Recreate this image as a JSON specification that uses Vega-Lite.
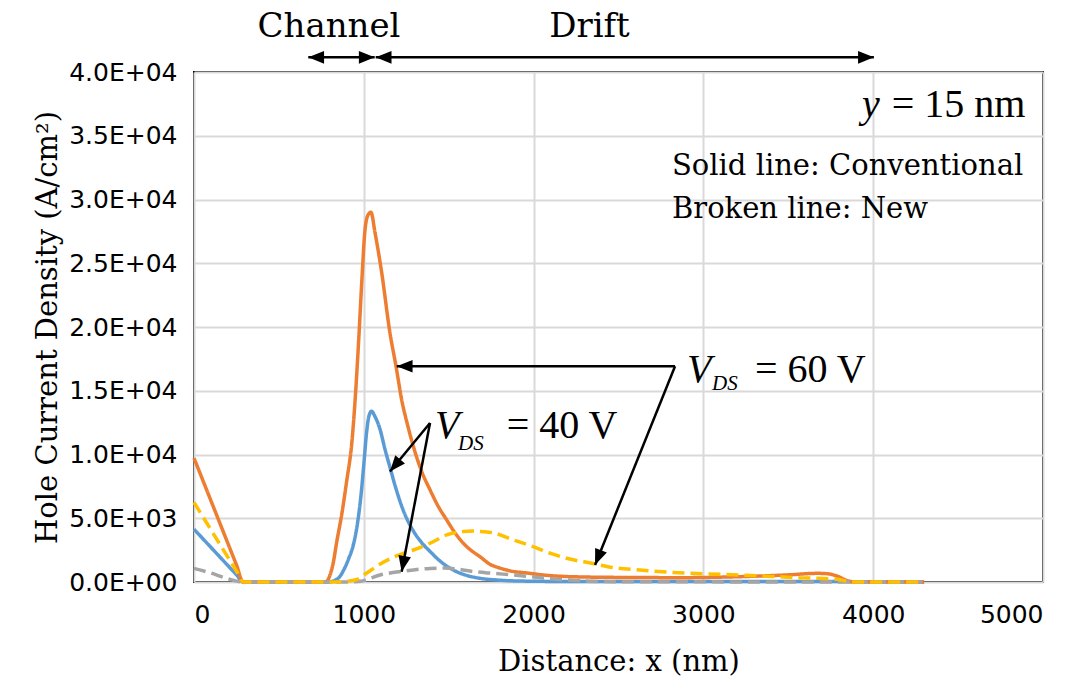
{
  "$schema": "https://vega.github.io/schema/vega-lite/v6.json",
  "width": 849,
  "height": 510,
  "autosize": {"type": "none"},
  "padding": {"left": 194, "top": 72, "right": 35, "bottom": 105},
  "background": "white",
  "config": {
    "view": {"stroke": "black", "strokeWidth": 2},
    "axis": {
      "grid": true,
      "gridColor": "#d9d9d9",
      "gridWidth": 2,
      "ticks": false,
      "domain": false,
      "labelFont": "DejaVu Sans",
      "labelFontSize": 25,
      "labelColor": "black",
      "titleFont": "DejaVu Serif",
      "titleFontSize": 29,
      "titleFontWeight": "normal",
      "titleColor": "black"
    }
  },
  "datasets": {
    "curves": [
      {"s": "Conv 40V", "x": 0, "y": 4140}, {"s": "Conv 40V", "x": 145, "y": 2070}, {"s": "Conv 40V", "x": 250, "y": 570},
      {"s": "Conv 40V", "x": 290, "y": 0}, {"s": "Conv 40V", "x": 790, "y": 0},
      {"s": "Conv 40V", "x": 850, "y": 300}, {"s": "Conv 40V", "x": 880, "y": 900}, {"s": "Conv 40V", "x": 910, "y": 1800},
      {"s": "Conv 40V", "x": 940, "y": 3000}, {"s": "Conv 40V", "x": 965, "y": 4800}, {"s": "Conv 40V", "x": 985, "y": 7000},
      {"s": "Conv 40V", "x": 1000, "y": 9200}, {"s": "Conv 40V", "x": 1017, "y": 11800}, {"s": "Conv 40V", "x": 1030, "y": 13000},
      {"s": "Conv 40V", "x": 1046, "y": 13400}, {"s": "Conv 40V", "x": 1065, "y": 13000}, {"s": "Conv 40V", "x": 1095, "y": 12000},
      {"s": "Conv 40V", "x": 1125, "y": 10400},
      {"s": "Conv 40V", "x": 1154, "y": 9000}, {"s": "Conv 40V", "x": 1190, "y": 7300}, {"s": "Conv 40V", "x": 1233, "y": 5600},
      {"s": "Conv 40V", "x": 1292, "y": 4000}, {"s": "Conv 40V", "x": 1340, "y": 3100}, {"s": "Conv 40V", "x": 1390, "y": 2400},
      {"s": "Conv 40V", "x": 1440, "y": 1750}, {"s": "Conv 40V", "x": 1488, "y": 1250}, {"s": "Conv 40V", "x": 1540, "y": 850},
      {"s": "Conv 40V", "x": 1586, "y": 600}, {"s": "Conv 40V", "x": 1684, "y": 290}, {"s": "Conv 40V", "x": 1782, "y": 160},
      {"s": "Conv 40V", "x": 1900, "y": 80}, {"s": "Conv 40V", "x": 2200, "y": 40}, {"s": "Conv 40V", "x": 3000, "y": 30},
      {"s": "Conv 40V", "x": 3800, "y": 30}, {"s": "Conv 40V", "x": 4300, "y": 0},

      {"s": "Conv 60V", "x": 0, "y": 9720}, {"s": "Conv 60V", "x": 145, "y": 4860}, {"s": "Conv 60V", "x": 250, "y": 1340},
      {"s": "Conv 60V", "x": 290, "y": 0}, {"s": "Conv 60V", "x": 775, "y": 0},
      {"s": "Conv 60V", "x": 800, "y": 500}, {"s": "Conv 60V", "x": 820, "y": 1500}, {"s": "Conv 60V", "x": 840, "y": 3100},
      {"s": "Conv 60V", "x": 870, "y": 5300}, {"s": "Conv 60V", "x": 899, "y": 7900}, {"s": "Conv 60V", "x": 930, "y": 11000},
      {"s": "Conv 60V", "x": 950, "y": 14500}, {"s": "Conv 60V", "x": 970, "y": 19000}, {"s": "Conv 60V", "x": 990, "y": 24000},
      {"s": "Conv 60V", "x": 1005, "y": 27300}, {"s": "Conv 60V", "x": 1022, "y": 28700}, {"s": "Conv 60V", "x": 1042, "y": 29000},
      {"s": "Conv 60V", "x": 1066, "y": 27400}, {"s": "Conv 60V", "x": 1105, "y": 24300}, {"s": "Conv 60V", "x": 1154, "y": 19540},
      {"s": "Conv 60V", "x": 1190, "y": 16900}, {"s": "Conv 60V", "x": 1223, "y": 14300}, {"s": "Conv 60V", "x": 1260, "y": 12200},
      {"s": "Conv 60V", "x": 1292, "y": 10630}, {"s": "Conv 60V", "x": 1340, "y": 8700}, {"s": "Conv 60V", "x": 1390, "y": 7230},
      {"s": "Conv 60V", "x": 1440, "y": 5900}, {"s": "Conv 60V", "x": 1488, "y": 4870}, {"s": "Conv 60V", "x": 1540, "y": 3800},
      {"s": "Conv 60V", "x": 1586, "y": 3040}, {"s": "Conv 60V", "x": 1640, "y": 2400}, {"s": "Conv 60V", "x": 1684, "y": 1990},
      {"s": "Conv 60V", "x": 1742, "y": 1400}, {"s": "Conv 60V", "x": 1800, "y": 1100}, {"s": "Conv 60V", "x": 1870, "y": 850},
      {"s": "Conv 60V", "x": 1944, "y": 730}, {"s": "Conv 60V", "x": 2100, "y": 500}, {"s": "Conv 60V", "x": 2213, "y": 420},
      {"s": "Conv 60V", "x": 2500, "y": 360}, {"s": "Conv 60V", "x": 2888, "y": 340}, {"s": "Conv 60V", "x": 3100, "y": 380},
      {"s": "Conv 60V", "x": 3337, "y": 470}, {"s": "Conv 60V", "x": 3500, "y": 560}, {"s": "Conv 60V", "x": 3674, "y": 680},
      {"s": "Conv 60V", "x": 3730, "y": 650}, {"s": "Conv 60V", "x": 3786, "y": 470}, {"s": "Conv 60V", "x": 3854, "y": 80},
      {"s": "Conv 60V", "x": 3900, "y": 0}, {"s": "Conv 60V", "x": 4300, "y": 0},

      {"s": "New 40V", "x": 0, "y": 1070}, {"s": "New 40V", "x": 100, "y": 700}, {"s": "New 40V", "x": 173, "y": 370},
      {"s": "New 40V", "x": 240, "y": 100}, {"s": "New 40V", "x": 290, "y": 0}, {"s": "New 40V", "x": 900, "y": 0},
      {"s": "New 40V", "x": 980, "y": 50}, {"s": "New 40V", "x": 1030, "y": 250}, {"s": "New 40V", "x": 1095, "y": 550},
      {"s": "New 40V", "x": 1193, "y": 780}, {"s": "New 40V", "x": 1292, "y": 950}, {"s": "New 40V", "x": 1390, "y": 1060},
      {"s": "New 40V", "x": 1470, "y": 1090}, {"s": "New 40V", "x": 1560, "y": 1000}, {"s": "New 40V", "x": 1645, "y": 820},
      {"s": "New 40V", "x": 1760, "y": 680}, {"s": "New 40V", "x": 1881, "y": 550}, {"s": "New 40V", "x": 2077, "y": 290},
      {"s": "New 40V", "x": 2200, "y": 150}, {"s": "New 40V", "x": 2326, "y": 60}, {"s": "New 40V", "x": 2500, "y": 20},
      {"s": "New 40V", "x": 4300, "y": 0},

      {"s": "New 60V", "x": 0, "y": 6240}, {"s": "New 60V", "x": 145, "y": 3120}, {"s": "New 60V", "x": 250, "y": 860},
      {"s": "New 60V", "x": 290, "y": 0}, {"s": "New 60V", "x": 800, "y": 0},
      {"s": "New 60V", "x": 900, "y": 50}, {"s": "New 60V", "x": 960, "y": 200}, {"s": "New 60V", "x": 1017, "y": 700},
      {"s": "New 60V", "x": 1095, "y": 1400}, {"s": "New 60V", "x": 1193, "y": 2050}, {"s": "New 60V", "x": 1292, "y": 2510},
      {"s": "New 60V", "x": 1390, "y": 3040}, {"s": "New 60V", "x": 1488, "y": 3690}, {"s": "New 60V", "x": 1586, "y": 3960},
      {"s": "New 60V", "x": 1640, "y": 4000}, {"s": "New 60V", "x": 1700, "y": 3950}, {"s": "New 60V", "x": 1764, "y": 3850},
      {"s": "New 60V", "x": 1870, "y": 3350}, {"s": "New 60V", "x": 1989, "y": 2810}, {"s": "New 60V", "x": 2100, "y": 2250},
      {"s": "New 60V", "x": 2213, "y": 1800}, {"s": "New 60V", "x": 2350, "y": 1450}, {"s": "New 60V", "x": 2438, "y": 1200},
      {"s": "New 60V", "x": 2627, "y": 940}, {"s": "New 60V", "x": 2888, "y": 700}, {"s": "New 60V", "x": 3112, "y": 600},
      {"s": "New 60V", "x": 3337, "y": 470}, {"s": "New 60V", "x": 3562, "y": 340}, {"s": "New 60V", "x": 3786, "y": 210},
      {"s": "New 60V", "x": 3854, "y": 50}, {"s": "New 60V", "x": 3900, "y": 0}, {"s": "New 60V", "x": 4300, "y": 0}
    ],
    "arrows": [
      {"id": "ch", "x": 673, "y": 41150, "x2": 1064, "y2": 41150},
      {"id": "dr", "x": 1070, "y": 41150, "x2": 4004, "y2": 41150},
      {"id": "v60h", "x": 2833, "y": 16920, "x2": 1194, "y2": 16920},
      {"id": "v60d", "x": 2833, "y": 16920, "x2": 2362, "y2": 1340},
      {"id": "v40b", "x": 1390, "y": 12470, "x2": 1154, "y2": 8670},
      {"id": "v40g", "x": 1390, "y": 12470, "x2": 1223, "y2": 810}
    ]
  },
  "encoding": {
    "x": {
      "field": "x", "type": "quantitative",
      "scale": {"domain": [0, 5000], "nice": false},
      "axis": {
        "values": [0, 1000, 2000, 3000, 4000, 5000],
        "format": "d",
        "labelPadding": 20,
        "title": "Distance: x (nm)",
        "titlePadding": 20
      }
    },
    "y": {
      "field": "y", "type": "quantitative",
      "scale": {"domain": [0, 40000], "nice": false},
      "axis": {
        "values": [0, 5000, 10000, 15000, 20000, 25000, 30000, 35000, 40000],
        "labelExpr": "datum.value == 0 ? '0.0E+00' : (datum.value < 10000 ? format(datum.value / 1000, '.1f') + 'E+03' : format(datum.value / 10000, '.1f') + 'E+04')",
        "labelPadding": 17,
        "title": "Hole Current Density (A/cm²)",
        "titlePadding": 6
      }
    }
  },
  "layer": [
    {
      "data": {"name": "curves"},
      "mark": {"type": "line", "strokeWidth": 3.5, "interpolate": "monotone", "strokeCap": "butt"},
      "encoding": {
        "color": {
          "field": "s", "type": "nominal", "legend": null,
          "scale": {"domain": ["Conv 40V", "Conv 60V", "New 40V", "New 60V"], "range": ["#5B9BD5", "#ED7D31", "#A5A5A5", "#FFC000"]}
        },
        "strokeDash": {
          "field": "s", "type": "nominal", "legend": null,
          "scale": {"domain": ["Conv 40V", "Conv 60V", "New 40V", "New 60V"], "range": [[1, 0], [1, 0], [12, 6], [12, 6]]}
        }
      }
    },
    {
      "data": {"name": "arrows"},
      "mark": {"type": "rule", "color": "black", "strokeWidth": 2.5},
      "encoding": {"x2": {"field": "x2"}, "y2": {"field": "y2"}}
    },
    {
      "data": {"name": "arrows"},
      "transform": [{"filter": "datum.id == 'ch' || datum.id == 'dr'"}],
      "mark": {"type": "point", "shape": "M0,0L-0.4,-1L0.4,-1Z", "size": 1000, "filled": true, "color": "black", "opacity": 1, "angle": -90},
      "encoding": {"x": {"field": "x2", "type": "quantitative"}, "y": {"field": "y2", "type": "quantitative"}}
    },
    {
      "data": {"name": "arrows"},
      "transform": [{"filter": "datum.id == 'ch' || datum.id == 'dr'"}],
      "mark": {"type": "point", "shape": "M0,0L-0.4,-1L0.4,-1Z", "size": 1000, "filled": true, "color": "black", "opacity": 1, "angle": 90}
    },
    {
      "data": {"name": "arrows"},
      "transform": [{"filter": "datum.id == 'v60h'"}],
      "mark": {"type": "point", "shape": "M0,0L-0.4,-1L0.4,-1Z", "size": 1000, "filled": true, "color": "black", "opacity": 1, "angle": 90},
      "encoding": {"x": {"field": "x2", "type": "quantitative"}, "y": {"field": "y2", "type": "quantitative"}}
    },
    {
      "data": {"name": "arrows"},
      "transform": [{"filter": "datum.id == 'v60d'"}],
      "mark": {"type": "point", "shape": "M0,0L-0.4,-1L0.4,-1Z", "size": 1000, "filled": true, "color": "black", "opacity": 1, "angle": 22},
      "encoding": {"x": {"field": "x2", "type": "quantitative"}, "y": {"field": "y2", "type": "quantitative"}}
    },
    {
      "data": {"name": "arrows"},
      "transform": [{"filter": "datum.id == 'v40b'"}],
      "mark": {"type": "point", "shape": "M0,0L-0.4,-1L0.4,-1Z", "size": 1000, "filled": true, "color": "black", "opacity": 1, "angle": 40},
      "encoding": {"x": {"field": "x2", "type": "quantitative"}, "y": {"field": "y2", "type": "quantitative"}}
    },
    {
      "data": {"name": "arrows"},
      "transform": [{"filter": "datum.id == 'v40g'"}],
      "mark": {"type": "point", "shape": "M0,0L-0.4,-1L0.4,-1Z", "size": 1000, "filled": true, "color": "black", "opacity": 1, "angle": 11},
      "encoding": {"x": {"field": "x2", "type": "quantitative"}, "y": {"field": "y2", "type": "quantitative"}}
    },
    {
      "data": {"values": [{"t": "Channel", "x": 795, "y": 42745}, {"t": "Drift", "x": 2329, "y": 42745}]},
      "mark": {"type": "text", "font": "DejaVu Serif", "fontSize": 34, "align": "center", "baseline": "alphabetic", "color": "black"},
      "encoding": {"text": {"field": "t"}}
    },
    {
      "data": {"values": [{"t": "Solid line: Conventional", "x": 2815, "y": 31920}, {"t": "Broken line: New", "x": 2815, "y": 28525}]},
      "mark": {"type": "text", "font": "DejaVu Serif", "fontSize": 29, "align": "left", "baseline": "alphabetic", "color": "black"},
      "encoding": {"text": {"field": "t"}}
    },
    {
      "data": {"values": [{"t": "y", "x": 3934, "y": 36494}, {"t": "V", "x": 2903, "y": 15710}, {"t": "V", "x": 1419, "y": 11270}]},
      "mark": {"type": "text", "font": "Liberation Serif", "fontSize": 40, "fontStyle": "italic", "align": "left", "baseline": "alphabetic", "color": "black"},
      "encoding": {"text": {"field": "t"}}
    },
    {
      "data": {"values": [{"t": "DS", "x": 3051, "y": 15059}, {"t": "DS", "x": 1555, "y": 10353}]},
      "mark": {"type": "text", "font": "Liberation Serif", "fontSize": 21, "fontStyle": "italic", "align": "left", "baseline": "alphabetic", "color": "black"},
      "encoding": {"text": {"field": "t"}}
    },
    {
      "data": {"values": [{"t": "= 15 nm", "x": 4109, "y": 36494}, {"t": "= 60 V", "x": 3304, "y": 15710}, {"t": "= 40 V", "x": 1842, "y": 11270}]},
      "mark": {"type": "text", "font": "Liberation Serif", "fontSize": 40, "align": "left", "baseline": "alphabetic", "color": "black"},
      "encoding": {"text": {"field": "t"}}
    }
  ]
}
